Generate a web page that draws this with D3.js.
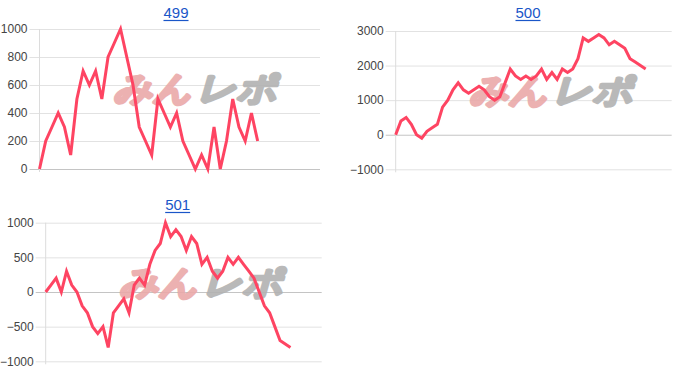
<!DOCTYPE html>
<html>
<head>
<meta charset="utf-8">
<script src="https://cdnjs.cloudflare.com/ajax/libs/d3/7.8.5/d3.min.js"></script>
<style>
body{margin:0;background:#fff;}
svg text{font-family:Arial,"Liberation Sans",sans-serif;}
.title{fill:#1a56c8;font-size:15px;}
.grid .tick text{fill:#444;font-size:12px;}
.grid .tick line{stroke:#e2e2e2;}
.grid .domain{display:none;}
</style>
</head>
<body>
<svg id="chart" width="700" height="386"></svg>
<script>
// chart names
var titles = ["499","500","501"]

// series values, one per chart
var values499 = [0,200,300,400,300,100,500,700,600,700,500,800,900,1000,800,600,
    300,200,100,500,400,300,400,200,100,0,100,0,300,0,200,500,300,200,400,200]
var values500 = [0,400,500,300,0,-100,100,200,300,800,1000,1300,1500,1300,1200,1300,
    1400,1300,1100,1000,1100,1500,1900,1700,1600,1700,1600,1700,1900,1600,1800,1600,
    1900,1800,1900,2200,2800,2700,2800,2900,2800,2600,2700,2600,2500,2200,2100,2000,1900]
var values501 = [0,100,200,0,300,100,0,-200,-300,-500,-600,-500,-800,-300,-200,-100,
    -300,100,200,100,400,600,700,1000,800,900,800,600,800,700,400,500,300,200,300,500,
    400,500,400,300,200,0,-200,-300,-500,-700,-750,-800]

// hidden x axis: day slots (the lines stop before the end)
var days499 = d3.range(1,47)
var days500 = d3.range(1,55)
var days501 = d3.range(1,55)

// y tick labels
var ticks499 = [0,200,400,600,800,1000]
var ticks500 = [-1000,0,1000,2000,3000]
var ticks501 = [-1000,-500,0,500,1000]

var lineColor = "#fe4462"

var svg = d3.select("#chart")

var drawPanel = function(title,values,days,ticks,box){
    var width = box.right-box.left

    var xScale = d3.scalePoint()
        .domain(days)
        .range([box.left,box.right])

    var yScale = d3.scaleLinear()
        .domain([ticks[0],ticks[ticks.length-1]])
        .range([box.bottom,box.top])

    var panel = svg.append("g")

    // title, blue and underlined like a link
    var t = panel.append("text")
        .classed("title",true)
        .attr("x",box.titleX)
        .attr("y",box.titleY)
        .attr("text-anchor","middle")
        .text(title)
    var tw = t.node().getComputedTextLength()
    panel.append("line")
        .attr("x1",box.titleX-tw/2)
        .attr("x2",box.titleX+tw/2)
        .attr("y1",box.titleY+2.5)
        .attr("y2",box.titleY+2.5)
        .attr("stroke","#1a56c8")
        .attr("stroke-width",1.2)

    // gridlines + y labels
    var yAxis = d3.axisLeft(yScale)
        .tickValues(ticks)
        .tickSize(-(width+10))
        .tickPadding(2)
        .tickFormat(d3.format("d"))
    panel.append("g")
        .classed("grid",true)
        .attr("transform","translate("+(box.left-10)+",0)")
        .call(yAxis)
        .selectAll(".tick line")
        .style("stroke",function(d){return d==0 ? "#c4c4c4" : "#e2e2e2"})

    // left axis line
    panel.append("line")
        .attr("x1",box.left).attr("x2",box.left)
        .attr("y1",box.top).attr("y2",box.bottom+3)
        .attr("stroke","#dcdcdc")

    // watermark
    var wm = panel.append("g")
        .attr("opacity",0.9)
        .style("font-family","'Noto Sans CJK JP',sans-serif")
        .style("font-weight","900")
        .style("font-style","italic")
    wm.append("text")
        .attr("x",box.left+74)
        .attr("y",box.top+71)
        .attr("textLength",78)
        .attr("lengthAdjust","spacingAndGlyphs")
        .attr("font-size",34)
        .attr("fill","#eaa9a9")
        .attr("stroke","#eaa9a9")
        .attr("stroke-width",3)
        .attr("stroke-linejoin","round")
        .text("みん")
    wm.append("text")
        .attr("x",box.left+157)
        .attr("y",box.top+71)
        .attr("textLength",80)
        .attr("lengthAdjust","spacingAndGlyphs")
        .attr("font-size",34)
        .attr("fill","#b2b2b2")
        .attr("stroke","#b2b2b2")
        .attr("stroke-width",3)
        .attr("stroke-linejoin","round")
        .text("レポ")

    // the series line
    var line = d3.line()
        .x(function(d,i){return xScale(days[i])})
        .y(function(d){return yScale(d)})
    panel.append("path")
        .datum(values)
        .attr("d",line)
        .attr("fill","none")
        .attr("stroke",lineColor)
        .attr("stroke-width",3)
}

drawPanel(titles[0],values499,days499,ticks499,
    {left:39.5,right:320,top:29,bottom:169,titleX:176,titleY:18})
drawPanel(titles[1],values500,days500,ticks500,
    {left:395.7,right:671.7,top:31,bottom:169.3,titleX:528,titleY:18})
drawPanel(titles[2],values501,days501,ticks501,
    {left:45.7,right:321.7,top:222.7,bottom:361.3,titleX:177.7,titleY:210})
</script>
</body>
</html>
